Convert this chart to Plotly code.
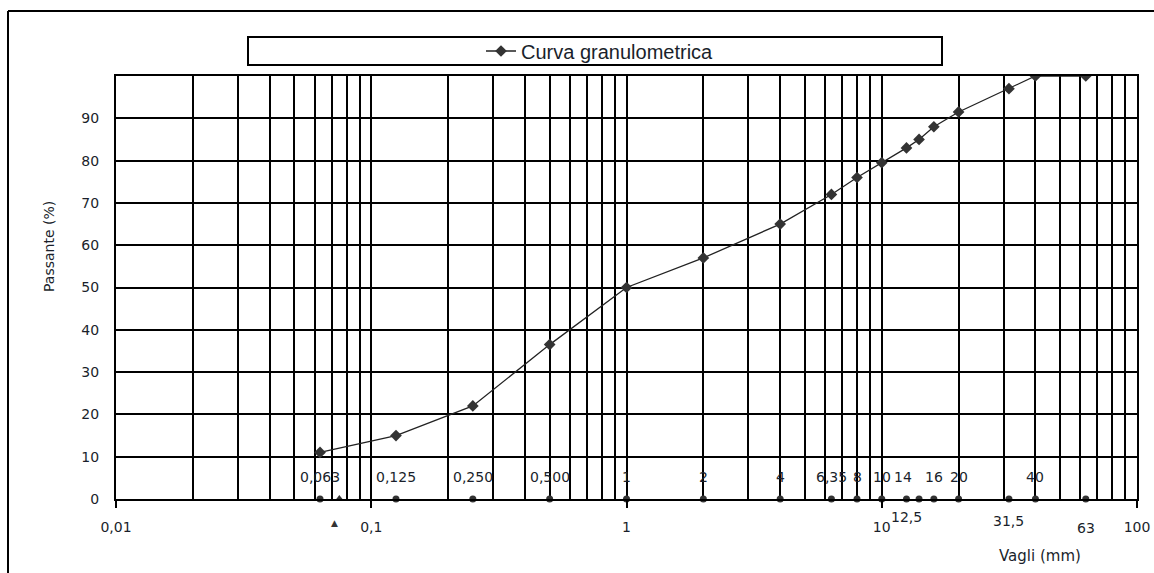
import math

import plotly.graph_objects as go

# sieve sizes (mm) and percent passing
SIEVES = [0.063, 0.125, 0.25, 0.5, 1, 2, 4, 6.35, 8, 10, 12.5, 14, 16, 20, 31.5, 40, 63]
PASSING = [11, 15, 22, 36.5, 50, 57, 65, 72, 76, 79.5, 83, 85, 88, 91.5, 97, 100, 100]

SIEVE_LABELS = ["0,063", "0,125", "0,250", "0,500", "1", "2", "4", "6,35", "8", "10",
                "12,5", "14", "16", "20", "31,5", "40", "63"]
LABELS_BELOW = ["12,5", "31,5", "63"]

TRIANGLE_X = [0.075]
TRIANGLE_Y = [0]
STRAY_X = 0.072

X_TICKS = [0.01, 0.1, 1, 10, 100]
X_TICK_TEXT = ["0,01", "0,1", "1", "10", "100"]
Y_TICKS = [0, 10, 20, 30, 40, 50, 60, 70, 80, 90]

FONT = "DejaVu Sans"
INK = "#1a1f2b"

fig = go.Figure()
fig.add_trace(go.Scatter(
    x=SIEVES, y=PASSING, mode="lines+markers", name="Curva granulometrica",
    line=dict(color="#222222", width=1.3),
    marker=dict(symbol="diamond", size=9, color="#333333"),
))
fig.add_trace(go.Scatter(
    x=SIEVES, y=[0] * len(SIEVES), mode="markers", showlegend=False,
    marker=dict(symbol="circle", size=7, color="#333333"), cliponaxis=False,
))
fig.add_trace(go.Scatter(
    x=TRIANGLE_X, y=TRIANGLE_Y, mode="markers", showlegend=False,
    marker=dict(symbol="triangle-up", size=8, color="#333333"), cliponaxis=False,
))

below_shift = {"12,5": -18, "31,5": -22, "63": -29}
for sx, lab in zip(SIEVES, SIEVE_LABELS):
    if lab in LABELS_BELOW:
        ys, xs = below_shift[lab], 0
    else:
        ys = 22
        xs = -16 if lab == "14" else 0
    # annotations on a log axis take log10 positions
    fig.add_annotation(x=math.log10(sx), y=0, xref="x", yref="y", text=lab, showarrow=False,
                       xshift=xs, yshift=ys, font=dict(family=FONT, size=14, color=INK))

# stray triangle printed below the axis
fig.add_annotation(x=math.log10(STRAY_X), y=0, xref="x", yref="y", text="▲", showarrow=False,
                   yshift=-24, font=dict(family=FONT, size=9, color="#333333"))

minor_vals = [m * 10 ** e for e in range(-2, 2) for m in range(2, 10)]

fig.update_xaxes(
    type="log", range=[-2, 2], tickvals=X_TICKS, ticktext=X_TICK_TEXT, automargin=False,
    ticks="outside", ticklen=7, tickwidth=1.5, tickcolor="black", ticklabelstandoff=7,
    showgrid=True, gridcolor="black", gridwidth=1.5,
    minor=dict(tickvals=minor_vals, showgrid=True, gridcolor="black", gridwidth=1.5, ticks=""),
    showline=True, linecolor="black", linewidth=2, mirror=True,
    tickfont=dict(family=FONT, size=14, color=INK), zeroline=False,
)
fig.update_yaxes(
    range=[0, 100], tickvals=Y_TICKS, showgrid=True, gridcolor="black", gridwidth=1.5,
    showline=True, linecolor="black", linewidth=2, mirror=True, ticks="", automargin=False,
    ticklabelstandoff=12, tickfont=dict(family=FONT, size=14, color=INK), zeroline=False,
)

fig.add_annotation(xref="paper", yref="paper", x=(1040 - 116) / 1021, y=(499 - 556) / 423,
                   xanchor="center", yanchor="middle",
                   text="Vagli (mm)", showarrow=False, font=dict(family=FONT, size=15, color=INK))
fig.add_annotation(xref="paper", yref="paper", x=(49 - 116) / 1021, y=(499 - 247) / 423,
                   xanchor="center", yanchor="middle",
                   text="Passante (%)", textangle=-90, showarrow=False,
                   font=dict(family=FONT, size=14, color=INK))

# legend frame and outer chart frame
fig.add_shape(type="rect", xref="paper", yref="paper",
              x0=(248 - 116) / 1021, x1=(942 - 116) / 1021,
              y0=(499 - 65) / 423, y1=(499 - 37) / 423, line=dict(color="black", width=2))
fig.add_shape(type="line", xref="paper", yref="paper", x0=(8 - 116) / 1021, x1=1.02,
              y0=(499 - 11) / 423, y1=(499 - 11) / 423, line=dict(color="black", width=2))
fig.add_shape(type="line", xref="paper", yref="paper", x0=(8 - 116) / 1021, x1=(8 - 116) / 1021,
              y0=(499 - 11) / 423, y1=-0.2, line=dict(color="black", width=2))

fig.update_layout(
    width=1154, height=573, margin=dict(l=116, r=17, t=76, b=74),
    paper_bgcolor="white", plot_bgcolor="white",
    legend=dict(x=(600 - 116) / 1021, y=(499 - 51) / 423, xanchor="center", yanchor="middle",
                font=dict(family="Liberation Sans", size=20, color=INK), bgcolor="rgba(0,0,0,0)"),
    showlegend=True,
)

fig.write_html("out.html", config={"displayModeBar": False},
               post_script="document.body.style.margin='0';document.body.style.overflow='hidden';")
